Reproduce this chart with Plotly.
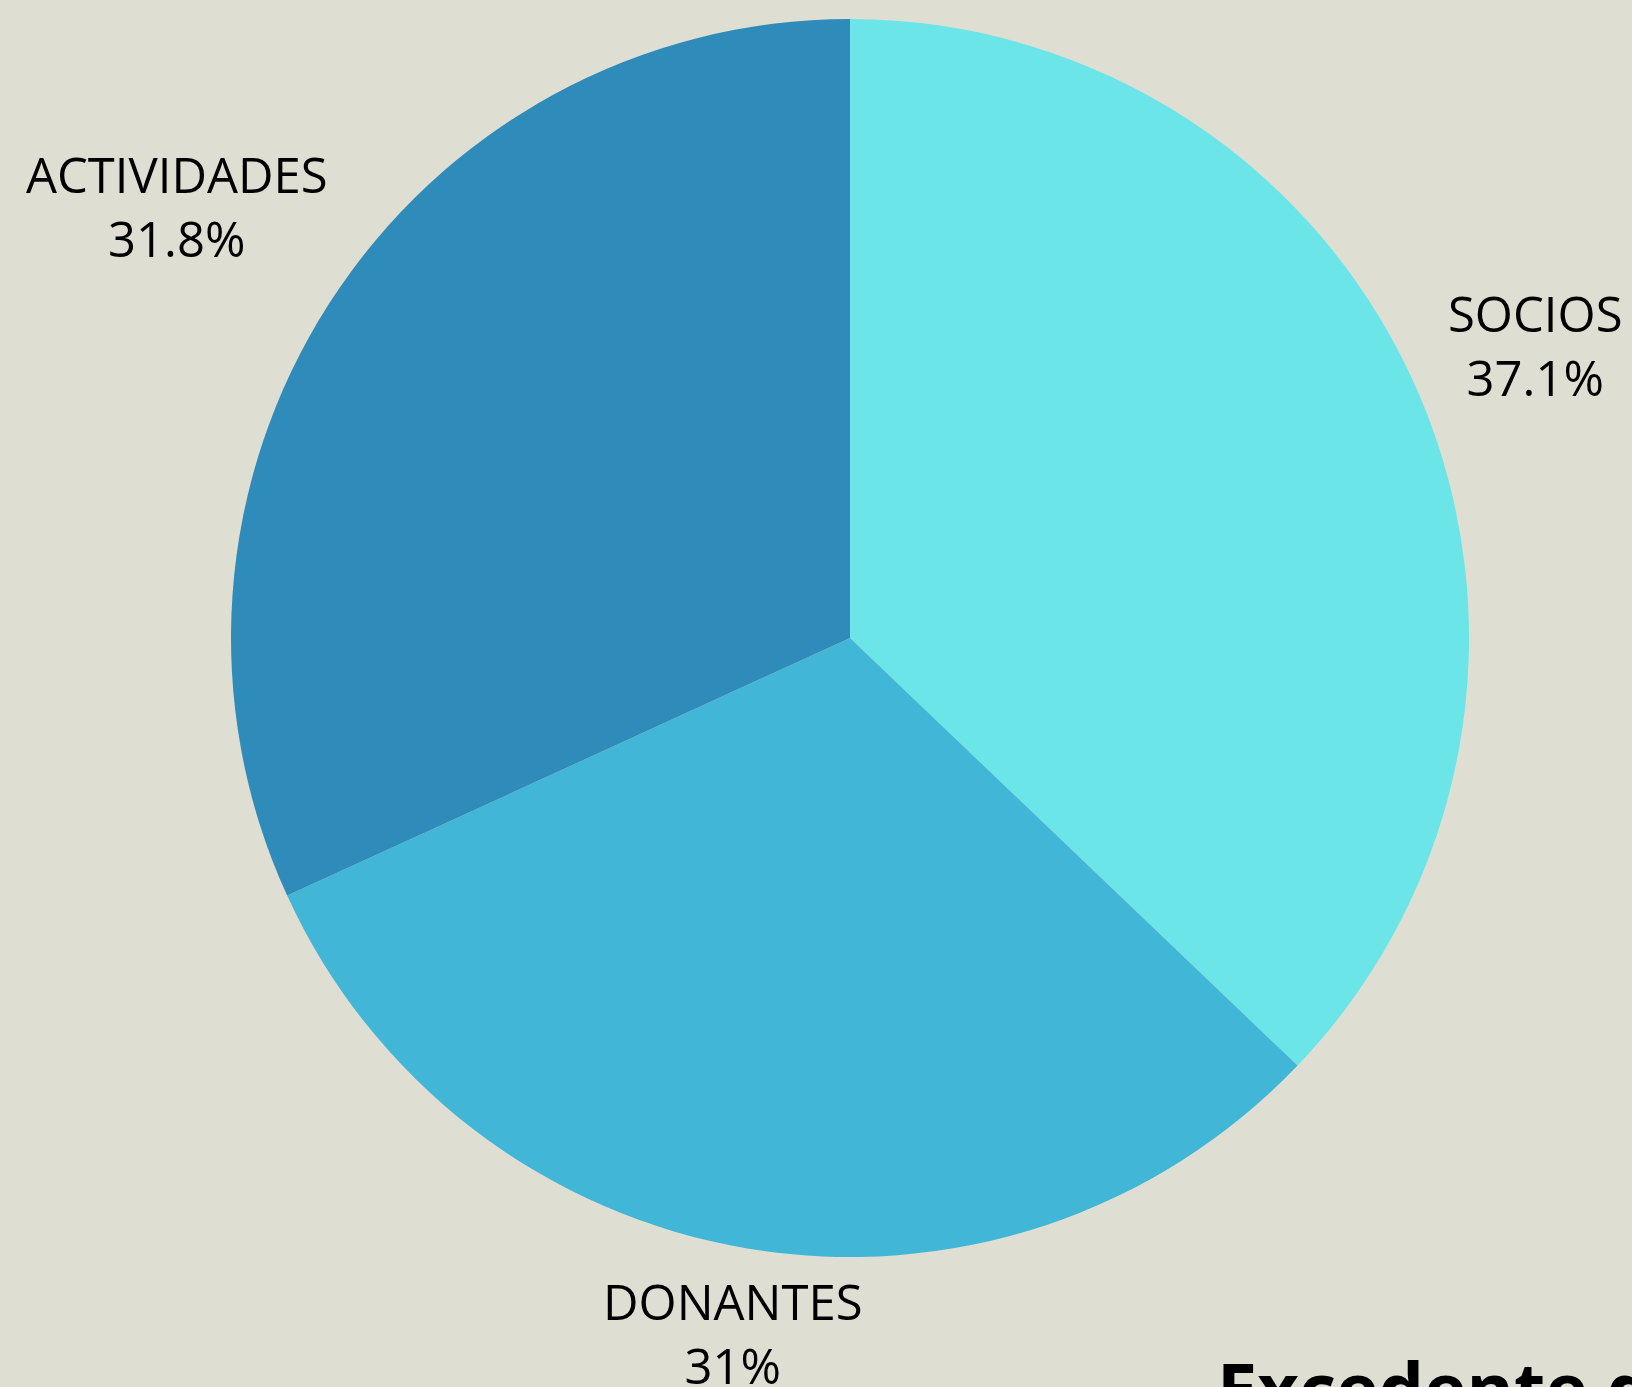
import math
import plotly.graph_objects as go

labels = ["SOCIOS", "DONANTES", "ACTIVIDADES"]
values = [37.1, 31.0, 31.8]
colors = ["#6be5e8", "#42b6d6", "#2e8bba"]
title_text = "Excedente de ingresos"

# style: radial distance of each label centre, in pie radii
label_dist = [1.204, 1.139, 1.293]

BG = "#dedfd2"
W, H = 1632, 1387
M = dict(l=68, r=0, t=19, b=130)
plot_w = W - M["l"] - M["r"]
plot_h = H - M["t"] - M["b"]
R = min(plot_w, plot_h) / 2

fig = go.Figure(
    go.Pie(
        labels=labels,
        values=values,
        sort=False,
        direction="clockwise",
        rotation=0,
        marker=dict(colors=colors),
        textinfo="none",
        showlegend=False,
        hoverinfo="label+percent",
    )
)


def fmt_pct(p):
    s = "%.1f" % p
    if s.endswith(".0"):
        s = s[:-2]
    return s + "%"


total = sum(values)
cum = 0.0
annotations = []
for lab, v, k in zip(labels, values, label_dist):
    mid = (cum + v / 2) / total * 2 * math.pi
    cum += v
    x = 0.5 + k * R * math.sin(mid) / plot_w
    y = 0.5 + k * R * math.cos(mid) / plot_h
    annotations.append(
        dict(
            text=lab + "<br>" + fmt_pct(100 * v / total),
            x=x, y=y, xref="paper", yref="paper",
            xanchor="center", yanchor="middle",
            showarrow=False,
            align="center",
            font=dict(family="Open Sans", size=49, color="#000000"),
        )
    )

fig.update_layout(
    width=W,
    height=H,
    paper_bgcolor=BG,
    plot_bgcolor=BG,
    margin=dict(**M, autoexpand=False),
    font=dict(family="Open Sans", color="#000000"),
    annotations=annotations,
    title=dict(
        text="<b>" + title_text + "</b>",
        font=dict(family="Open Sans", size=72, color="#000000"),
        xref="container",
        yref="container",
        x=1217 / W,
        xanchor="left",
        y=1 - 1365 / H,
        yanchor="top",
    ),
)

page_style = """
document.documentElement.style.margin='0';
document.body.style.margin='0';
document.documentElement.style.background='%s';
document.body.style.background='%s';
document.documentElement.style.overflow='hidden';
""" % (BG, BG)

fig.write_html("out.html", post_script=page_style, config={"displayModeBar": False})
